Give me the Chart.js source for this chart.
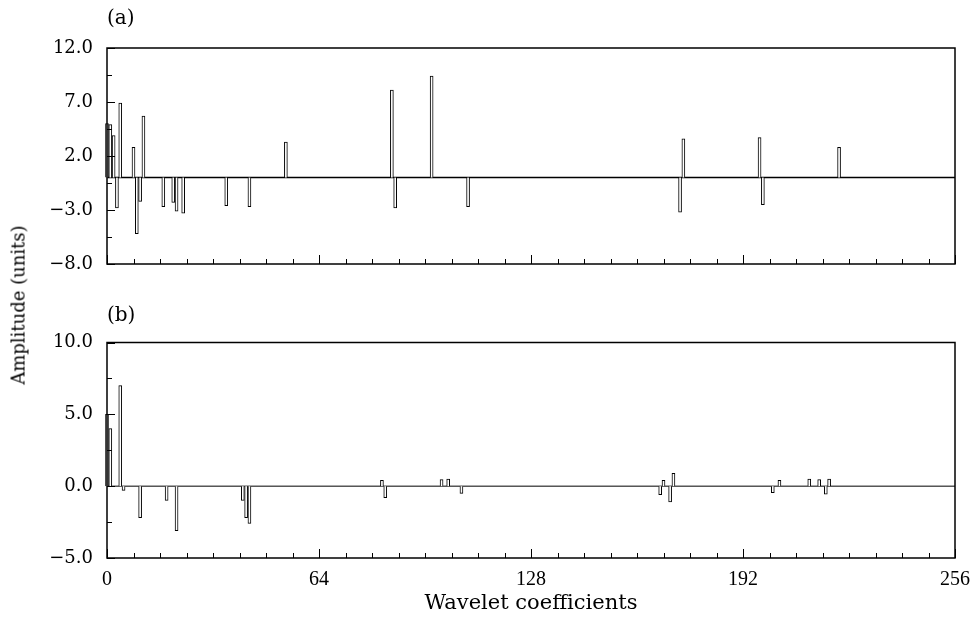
<!DOCTYPE html>
<html><head><meta charset="utf-8">
<script src="https://cdn.jsdelivr.net/npm/chart.js@4/dist/chart.umd.min.js"></script>
<style>
html,body{margin:0;padding:0;background:#fff;}
#wrap{position:relative;width:974px;height:624px;overflow:hidden;background:#fff;}
canvas{position:absolute;left:0;}
#ca{top:0;} #cb{top:290px;}
#ytitle{position:absolute;left:18px;top:305px;transform:translate(-50%,-50%) rotate(-90deg);font:18px "DejaVu Serif";white-space:nowrap;color:#000;}
</style></head>
<body><div id="wrap">
<canvas id="ca" width="974" height="290"></canvas>
<canvas id="cb" width="974" height="334"></canvas>
<div id="ytitle">Amplitude (units)</div>
</div>
<script>
// ---- data ----
const coefA = [0,1,2,3,4,8,9,10,11,17,20,21,23,36,43,54,86,87,98,109,173,174,197,198,221];
const ampA  = [5.0,4.9,3.9,-2.8,6.9,2.8,-5.2,-2.2,5.7,-2.7,-2.3,-3.1,-3.3,-2.6,-2.7,3.3,8.1,-2.8,9.4,-2.7,-3.2,3.6,3.7,-2.5,2.8];
const coefB = [0,1,4,5,10,18,21,41,42,43,83,84,101,103,107,167,168,170,171,201,203,212,215,217,218];
const ampB  = [5.0,4.0,7.0,-0.3,-2.2,-1.0,-3.1,-1.0,-2.2,-2.6,0.4,-0.8,0.45,0.5,-0.5,-0.6,0.4,-1.1,0.9,-0.45,0.4,0.5,0.45,-0.55,0.5];
const xLabelTicks = [0,64,128,192,256];
const yLabelTicksA = [-8,-3,2,7,12];
const yLabelTicksB = [-5,0,5,10];
const xMinorStep = 8, yMinorStep = 2.5;

Chart.defaults.font.family = '"DejaVu Serif"';
Chart.defaults.color = '#000';

function fmtY(v){ return (v<0?'\u2212':'') + Math.abs(v).toFixed(1); }

const framePlugin = {
  id:'frame',
  afterDatasetsDraw(chart, args, opts){
    const {ctx, chartArea:a, scales:{x,y}} = chart;
    ctx.save();
    ctx.strokeStyle='#000';
    ctx.lineWidth=1;
    ctx.beginPath();
    x.ticks.forEach(t=>{
      const px = Math.round(x.getPixelForValue(t.value))+0.5;
      const L = xLabelTicks.includes(t.value) ? 9 : 5;
      ctx.moveTo(px, a.bottom); ctx.lineTo(px, a.bottom-L);
    });
    y.ticks.forEach(t=>{
      const py = Math.round(y.getPixelForValue(t.value))+0.5;
      const L = opts.majors.includes(t.value) ? 8 : 5;
      ctx.moveTo(a.left, py); ctx.lineTo(a.left+L, py);
    });
    ctx.stroke();
    ctx.lineWidth=1.5;
    ctx.strokeRect(a.left, a.top, a.right-a.left, a.bottom-a.top);
    ctx.fillStyle='#000';
    ctx.font='20px "DejaVu Serif"';
    ctx.textBaseline='middle';
    ctx.textAlign='left';
    ctx.fillText(opts.label, a.left, a.top - opts.labelOffset);
    ctx.restore();
  }
};

function makeChart(id, coef, amp, yMin, yMax, majors, label, labelOffset, padTop, areaBottom, canvasH, showX, zeroW){
  const bars = coef.map((c,i)=>({x:c, y:amp[i]}));
  return new Chart(document.getElementById(id), {
    data:{datasets:[
      {type:'bar', data:bars, backgroundColor:'#fff', borderColor:'#000', borderWidth:1,
       barThickness:3, borderSkipped:'start', order:1, clip:false},
      {type:'line', data:[{x:0,y:0},{x:256,y:0}], borderColor:'#000', borderWidth:zeroW,
       pointRadius:0, order:2}
    ]},
    options:{
      responsive:false, animation:false, devicePixelRatio:1,
      layout:{padding:{top:padTop, right:19, left:0, bottom:0}},
      plugins:{legend:{display:false}, tooltip:{enabled:false},
        frame:{majors:majors, label:label, labelOffset:labelOffset}},
      scales:{
        x:{type:'linear', min:0, max:256, offset:false,
          grid:{display:false, drawTicks:false}, border:{display:false},
          afterBuildTicks(s){ const t=[]; for(let v=0; v<=256; v+=xMinorStep) t.push({value:v}); s.ticks=t; },
          ticks:{display:showX, autoSkip:false, maxRotation:0, padding:10,
            font:{family:'"Liberation Serif"', size:20},
            callback:(v)=> xLabelTicks.includes(v) ? String(v) : ''},
          title:{display:showX, text:'Wavelet coefficients', font:{family:'"DejaVu Serif"', size:21}, padding:{top:0,bottom:8}},
          afterFit(s){ s.height = canvasH - areaBottom; s.paddingLeft = 0; s.paddingRight = 0; }
        },
        y:{type:'linear', min:yMin, max:yMax,
          grid:{display:false, drawTicks:false}, border:{display:false},
          afterBuildTicks(s){ const t=[]; for(let v=yMin; v<=yMax+1e-9; v+=yMinorStep) t.push({value:v}); s.ticks=t; },
          ticks:{autoSkip:false, padding:14, font:{size:18},
            callback:(v)=> majors.includes(v) ? fmtY(v) : ''},
          afterFit(s){ s.width = 107; s.paddingTop = 0; s.paddingBottom = 0; }
        }
      }
    },
    plugins:[framePlugin]
  });
}

makeChart('ca', coefA, ampA, -8, 12, yLabelTicksA, '(a)', 29, 48, 264, 290, false, 1.5);
makeChart('cb', coefB, ampB, -5, 10, yLabelTicksB, '(b)', 26.5, 52.5, 268, 334, true, 1);
</script>
</body></html>
